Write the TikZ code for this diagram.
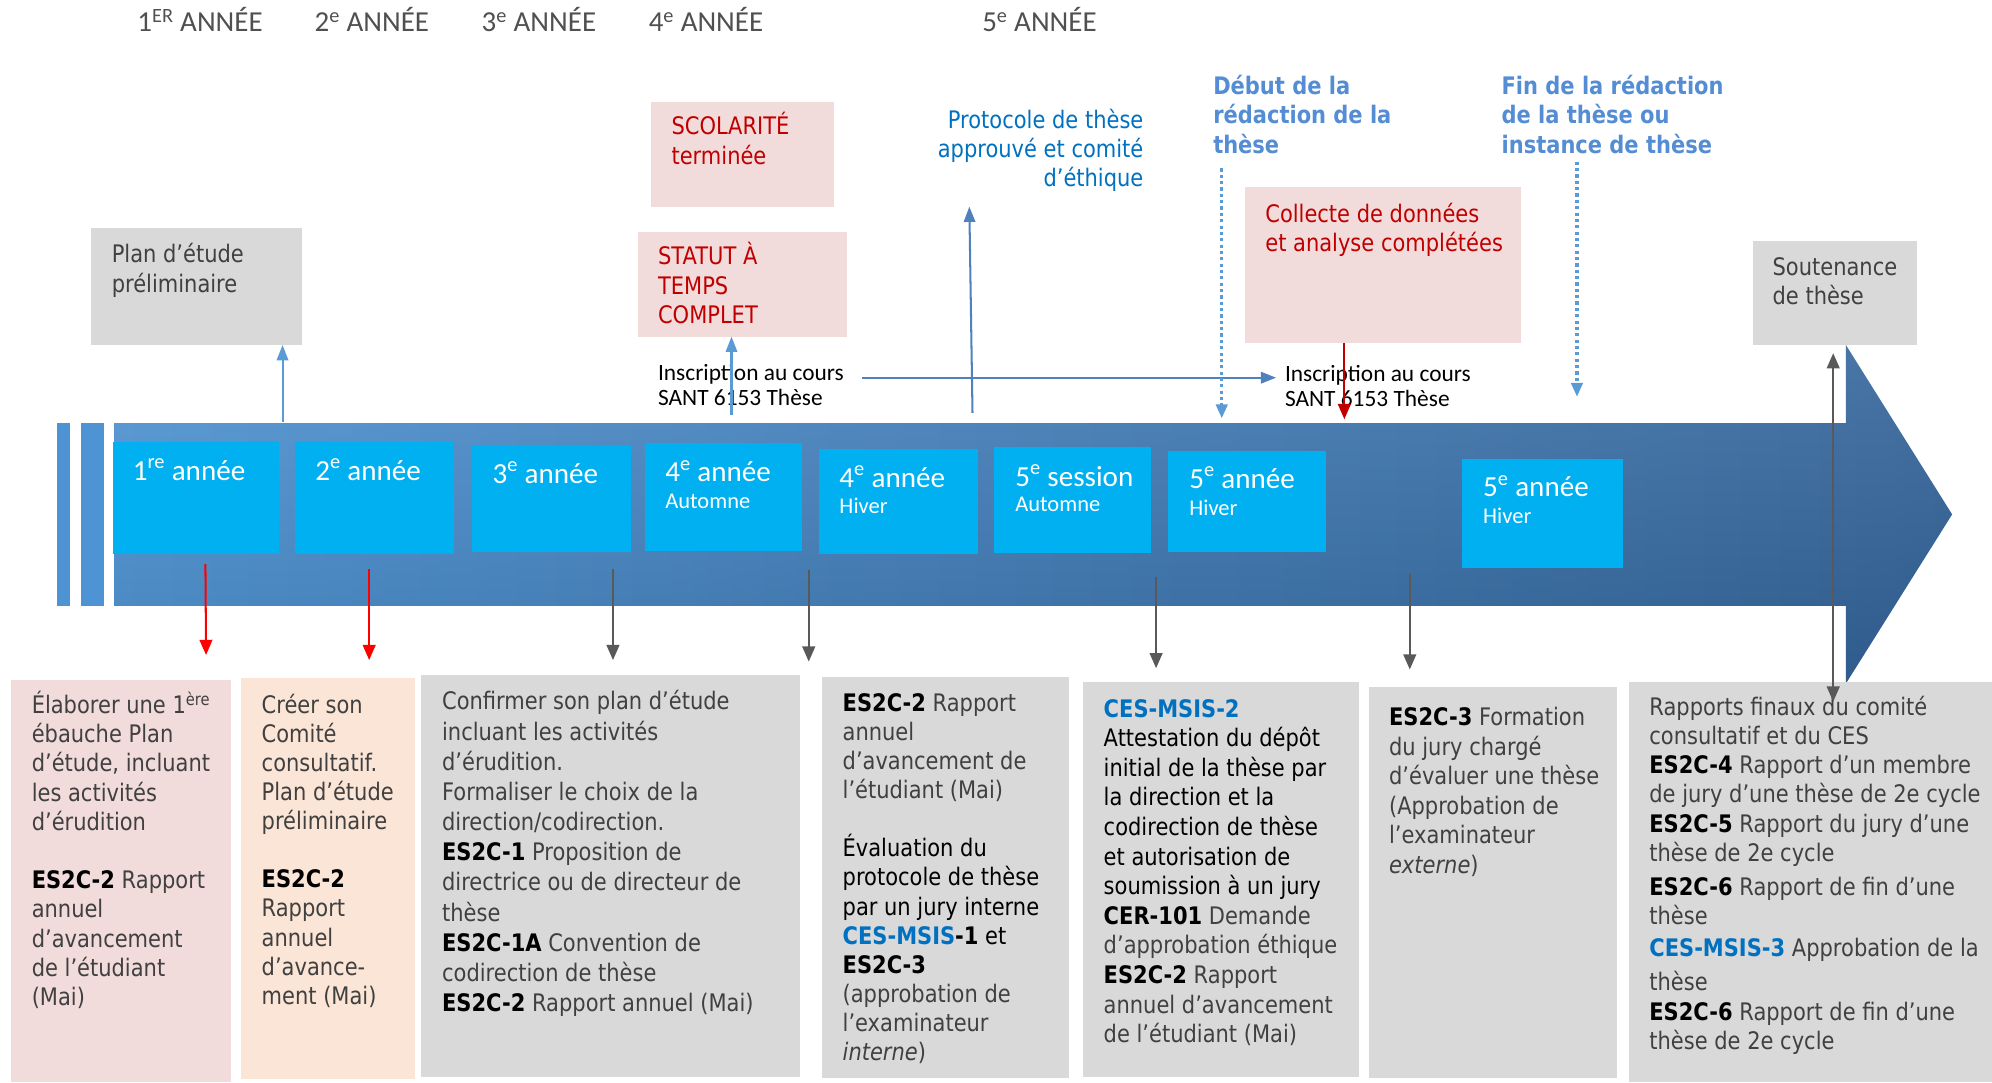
\documentclass[tikz,border=0pt]{standalone}
\usepackage{fontspec}
\usetikzlibrary{arrows.meta}
\newfontfamily\tahfont{DejaVu Sans}[FakeStretch=0.87]
\newfontfamily\calfont{Carlito}
\definecolor{txtgray}{HTML}{404040}
\definecolor{cyanbox}{HTML}{00B0F0}
\definecolor{grayfill}{HTML}{D9D9D9}
\definecolor{pinkfill}{HTML}{F2DCDB}
\definecolor{peachfill}{HTML}{FBE5D6}
\definecolor{darkred}{HTML}{C00000}
\definecolor{cesblue}{HTML}{0070C0}
\definecolor{stepblue}{HTML}{548DD4}
\definecolor{arrblue}{HTML}{5B9BD5}
\definecolor{arrdblue}{HTML}{4F81BD}
\definecolor{arrgray}{HTML}{595959}
\definecolor{bandL}{HTML}{4E94D4}
\definecolor{bandR}{HTML}{33649A}
\definecolor{hdrgray}{HTML}{505050}
\newcommand\cd[1]{{\color{black}\bfseries #1}}
\newcommand\cm[1]{{\color{cesblue}\bfseries #1}}
\newcommand\bk[1]{{\color{black}#1}}
\begin{document}
\begin{tikzpicture}[x=1pt,y=-1pt,
  box/.style={inner sep=0pt, outer sep=0pt, anchor=north west, draw=none},
  tx/.style={inner sep=0pt, outer sep=0pt, anchor=base west, text=txtgray, font=\tahfont\fontsize{19}{23}\selectfont},
  calt/.style={inner sep=0pt, outer sep=0pt, anchor=base west, text=black, font=\calfont\fontsize{18.4}{19.8}\selectfont},
  hdr/.style={inner sep=0pt, anchor=base west, text=hdrgray, font=\calfont\fontsize{22.8}{27}\selectfont},
  yr/.style={inner sep=0pt, anchor=base west, text=white, font=\calfont\fontsize{22.9}{27}\selectfont},
  sublab/.style={inner sep=0pt, anchor=base west, text=white, font=\calfont\fontsize{17.7}{21}\selectfont},
  upblue/.style={draw=arrblue, line width=1.6pt, -{Triangle[length=12pt,width=9pt]}},
  updblue/.style={draw=arrdblue, line width=1.6pt, -{Triangle[length=12pt,width=9pt]}},
  dotblue/.style={draw=arrblue, line width=2.5pt, dash pattern=on 2.5pt off 2.5pt, -{Triangle[length=11pt,width=9pt]}},
  redarr/.style={draw=red, line width=1.6pt, -{Triangle[length=12pt,width=10pt]}},
  dredarr/.style={draw=darkred, line width=1.6pt, -{Triangle[length=12pt,width=10pt]}},
  grayarr/.style={draw=arrgray, line width=1.8pt, -{Triangle[length=12pt,width=10pt]}},
]
\useasboundingbox (0,0) rectangle (1568,852);

% headers
\node[hdr] (h1) at (108,25) {1\textsuperscript{ER} ANNÉE};
\node[hdr] (h2) at (247.5,25) {2\textsuperscript{e} ANNÉE};
\node[hdr] (h3) at (379,25) {3\textsuperscript{e} ANNÉE};
\node[hdr] (h4) at (510.5,25) {4\textsuperscript{e} ANNÉE};
\node[hdr] (h5) at (773,25) {5\textsuperscript{e} ANNÉE};

% band
\fill[bandL] (45,333) rectangle (55,477);
\fill[bandL] (63.5,333) rectangle (82,477);
\shade[left color=bandL, right color=bandR] (90,333) -- (1453,333) -- (1453,271.6) -- (1536.6,404.9) -- (1453,538) -- (1453,477) -- (90,477) -- cycle;
\shade[top color=white, bottom color=black, opacity=0.10] (90,333) -- (1453,333) -- (1453,271.6) -- (1536.6,404.9) -- (1453,538) -- (1453,477) -- (90,477) -- cycle;

% cyan boxes
\node[box, fill=cyanbox, minimum width=130.5pt, minimum height=88pt] (c1) at (89,348) {};
\node[box, fill=cyanbox, minimum width=125.5pt, minimum height=88pt] (c2) at (232,348) {};
\node[box, fill=cyanbox, minimum width=125.5pt, minimum height=83.5pt] (c3) at (371.5,350.8) {};
\node[box, fill=cyanbox, minimum width=123.9pt, minimum height=85pt] (c4) at (507.6,349) {};
\node[box, fill=cyanbox, minimum width=125.4pt, minimum height=82.4pt] (c5) at (644.6,353.4) {};
\node[box, fill=cyanbox, minimum width=123.9pt, minimum height=83.1pt] (c6) at (782.4,351.9) {};
\node[box, fill=cyanbox, minimum width=124.4pt, minimum height=79.3pt] (c7) at (919.4,355) {};
\node[box, fill=cyanbox, minimum width=127.1pt, minimum height=85.5pt] (c8) at (1150.5,361.3) {};

\node[yr] (l1) at (104.4,378) {1\textsuperscript{re} année};
\node[yr] (l2) at (248,378) {2\textsuperscript{e} année};
\node[yr] (l3) at (387.5,380.5) {3\textsuperscript{e} année};
\node[yr] (l4) at (523.5,379.2) {4\textsuperscript{e} année};
\node[sublab] (s4) at (523.5,400.1) {Automne};
\node[yr] (l5) at (660.6,383.6) {4\textsuperscript{e} année};
\node[sublab] (s5) at (660.6,404.1) {Hiver};
\node[yr] (l6) at (799,382.6) {5\textsuperscript{e} session};
\node[sublab] (s6) at (799,402.8) {Automne};
\node[yr] (l7) at (936,384.4) {5\textsuperscript{e} année};
\node[sublab] (s7) at (936,405.4) {Hiver};
\node[yr] (l8) at (1167.3,391) {5\textsuperscript{e} année};
\node[sublab] (s8) at (1167.3,411.9) {Hiver};

% top boxes
\node[box, fill=grayfill, minimum width=166.2pt, minimum height=92.1pt] (plan) at (71.8,179.5) {};
\node[box, fill=pinkfill, minimum width=144.1pt, minimum height=82.4pt] (scol) at (512.6,80.3) {};
\node[box, fill=pinkfill, minimum width=165pt, minimum height=82.4pt] (statut) at (502,182.6) {};
\node[box, fill=pinkfill, minimum width=217.1pt, minimum height=122.8pt] (coll) at (979.8,146.9) {};
\node[box, fill=grayfill, minimum width=128.8pt, minimum height=81.9pt] (sout) at (1380,189.7) {};

\node[tx] (plantx) at (88,207) {\parbox[t]{200pt}{\raggedright Plan d’étude\\ préliminaire}};
\node[tx, text=darkred, font=\tahfont\fontsize{19}{23.6}\selectfont] (scoltx) at (528.6,106) {\parbox[t]{200pt}{\raggedright SCOLARITÉ\\ terminée}};
\node[tx, text=darkred] (statx) at (518,208.5) {\parbox[t]{200pt}{\raggedright STATUT À\\ TEMPS\\ COMPLET}};
\node[calt] (ins1) at (518,299.5) {\parbox[t]{200pt}{\raggedright Inscription au cours\\ SANT 6153 Thèse}};
\node[tx, text=cesblue, anchor=base east] (proto) at (900,101) {\parbox[t]{250pt}{\raggedleft Protocole de thèse\\ approuvé et comité\\ d’éthique}};
\node[tx, text=stepblue, font=\tahfont\bfseries\fontsize{19}{23.3}\selectfont] (debut) at (955,74) {\parbox[t]{250pt}{\raggedright Début de la\\ rédaction de la\\ thèse}};
\node[tx, text=stepblue, font=\tahfont\bfseries\fontsize{19}{23.3}\selectfont] (fin) at (1182,74) {\parbox[t]{250pt}{\raggedright Fin de la rédaction\\ de la thèse ou\\ instance de thèse}};
\node[tx, text=darkred] (colltx) at (996,175) {\parbox[t]{250pt}{\raggedright Collecte de données\\ et analyse complétées}};
\node[calt] (ins2) at (1011.5,300.5) {\parbox[t]{200pt}{\raggedright Inscription au cours\\ SANT 6153 Thèse}};
\node[tx, font=\tahfont\fontsize{19}{23.5}\selectfont] (souttx) at (1395.3,216.5) {\parbox[t]{200pt}{\raggedright Soutenance\\ de thèse}};

% bottom boxes
\node[box, fill=pinkfill, minimum width=172.9pt, minimum height=316.2pt] (b1) at (8.6,535.3) {};
\node[box, fill=peachfill, minimum width=136.7pt, minimum height=316.2pt] (b2) at (189.8,533.4) {};
\node[box, fill=grayfill, minimum width=298.4pt, minimum height=316.6pt] (b3) at (331.4,531.4) {};
\node[box, fill=grayfill, minimum width=194.3pt, minimum height=316.2pt] (b4) at (647.1,532.6) {};
\node[box, fill=grayfill, minimum width=217pt, minimum height=310.9pt] (b5) at (852.5,537.1) {};
\node[box, fill=grayfill, minimum width=195.1pt, minimum height=308.3pt] (b6) at (1077.5,540.5) {};
\node[box, fill=grayfill, minimum width=286pt, minimum height=314.4pt] (b7) at (1282,537.1) {};

\node[tx] (t1) at (25,561.5) {\parbox[t]{300pt}{\raggedright\leavevmode Élaborer une 1\textsuperscript{ère}\\ ébauche Plan\\ d’étude, incluant\\ les activités\\ d’érudition\\[23pt] \cd{ES2C-2} Rapport\\ annuel\\ d’avancement\\ de l’étudiant\\ (Mai)}};
\node[tx, font=\tahfont\fontsize{19}{22.9}\selectfont] (t2) at (206,561.5) {\parbox[t]{300pt}{\raggedright\leavevmode Créer son\\ Comité\\ consultatif.\\ Plan d’étude\\ préliminaire\\[22.9pt] \cd{ES2C-2}\\ Rapport\\ annuel\\ d’avance-\\ ment (Mai)}};
\node[tx, font=\tahfont\fontsize{19}{23.75}\selectfont] (t3) at (348,558.8) {\parbox[t]{400pt}{\raggedright\leavevmode Confirmer son plan d’étude\\ incluant les activités\\ d’érudition.\\ Formaliser le choix de la\\ direction/codirection.\\ \cd{ES2C-1} Proposition de\\ directrice ou de directeur de\\ thèse\\ \cd{ES2C-1A} Convention de\\ codirection de thèse\\ \cd{ES2C-2} Rapport annuel (Mai)}};
\node[tx, font=\tahfont\fontsize{19}{22.9}\selectfont] (t4) at (663.3,560) {\parbox[t]{300pt}{\raggedright\leavevmode \cd{ES2C-2} Rapport\\ annuel\\ d’avancement de\\ l’étudiant (Mai)\\[22.9pt] \bk{Évaluation du}\\ \bk{protocole de thèse}\\ \bk{par un jury interne}\\ \cm{CES-MSIS}\cd{-1} \bk{et}\\ \cd{ES2C-3}\\ (approbation de\\ l’examinateur\\ \textit{interne})}};
\node[tx, font=\tahfont\fontsize{19}{23.3}\selectfont] (t5) at (868.8,564.5) {\parbox[t]{300pt}{\raggedright\leavevmode \cm{CES-MSIS-2}\\ \bk{Attestation du dépôt}\\ \bk{initial de la thèse par}\\ \bk{la direction et la}\\ \bk{codirection de thèse}\\ \bk{et autorisation de}\\ \bk{soumission à un jury}\\ \cd{CER-101} Demande\\ d’approbation éthique\\ \cd{ES2C-2} Rapport\\ annuel d’avancement\\ de l’étudiant (Mai)}};
\node[tx, font=\tahfont\fontsize{19}{23.3}\selectfont] (t6) at (1093.4,571) {\parbox[t]{300pt}{\raggedright\leavevmode \cd{ES2C-3} Formation\\ du jury chargé\\ d’évaluer une thèse\\ (Approbation de\\ l’examinateur\\ \textit{externe})}};
\node[tx, font=\tahfont\fontsize{19}{22.9}\selectfont] (t7) at (1298.3,563.3) {\parbox[t]{400pt}{\raggedright\leavevmode Rapports finaux du comité\\ consultatif et du CES\\ \cd{ES2C-4} Rapport d’un membre\\ de jury d’une thèse de 2e cycle\\ \cd{ES2C-5} Rapport du jury d’une\\ thèse de 2e cycle\\[3.8pt] \cd{ES2C-6} Rapport de fin d’une\\[0.7pt] thèse\\[2pt] \cm{CES-MSIS-3} Approbation de la\\[3.4pt] thèse\\[0.7pt] \cd{ES2C-6} Rapport de fin d’une\\ thèse de 2e cycle}};

% connector end points
\coordinate (u1) at (222.4,332);
\coordinate (u2) at (575.8,326.7);
\coordinate (u3s) at (765.5,325);
\coordinate (u3e) at (763,162.7);
\coordinate (hs) at (678.7,297.3);
\coordinate (he) at (1004.5,297.3);
\coordinate (d1s) at (961.7,132.5);
\coordinate (d1e) at (961.7,329.3);
\coordinate (d2s) at (1241.3,127.3);
\coordinate (d2e) at (1241.3,312.3);
\coordinate (rc) at (1058.2,330);
\coordinate (ds) at (1443,278);
\coordinate (de) at (1443,552.3);
\coordinate (r1s) at (161.7,444);
\coordinate (r1e) at (162.2,515.6);
\coordinate (r2s) at (290.6,448);
\coordinate (r2e) at (290.6,519.6);
\coordinate (g1s) at (482.5,448);
\coordinate (g1e) at (482.5,519.6);
\coordinate (g2s) at (636.6,448.7);
\coordinate (g2e) at (636.6,520.8);
\coordinate (g3s) at (910,454);
\coordinate (g3e) at (910,526);
\coordinate (g4s) at (1109.7,452);
\coordinate (g4e) at (1109.7,527);

% connectors
\draw[upblue] (u1) -- (u1 |- plan.south);
\draw[upblue] (u2) -- (u2 |- statut.south);
\draw[updblue] (u3s) -- (u3e);
\draw[updblue] (hs) -- (he);
\draw[dotblue] (d1s) -- (d1e);
\draw[dotblue] (d2s) -- (d2e);
\draw[dredarr] (rc |- coll.south) -- (rc);
\draw[grayarr, {Triangle[length=12pt,width=10pt]}-{Triangle[length=12pt,width=10pt]}] (ds) -- (de);
\draw[redarr] (r1s) -- (r1e);
\draw[redarr] (r2s) -- (r2e);
\draw[grayarr] (g1s) -- (g1e);
\draw[grayarr] (g2s) -- (g2e);
\draw[grayarr] (g3s) -- (g3e);
\draw[grayarr] (g4s) -- (g4e);
\end{tikzpicture}
\end{document}
